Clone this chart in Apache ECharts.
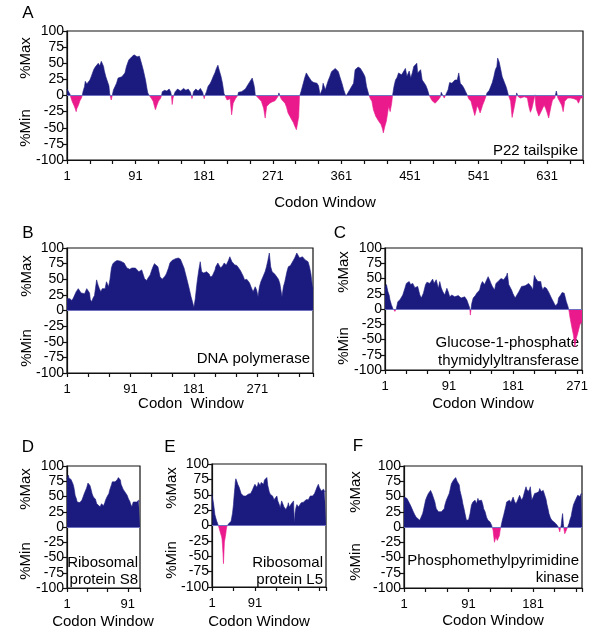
<!DOCTYPE html>
<html><head><meta charset="utf-8">
<script src="https://cdn.jsdelivr.net/npm/echarts@6/dist/echarts.min.js"></script>
<style>html,body{margin:0;padding:0;background:#fff}#c{width:600px;height:641px}</style>
</head><body><div id="c"></div>
<script>
// ---- Panel A: P22 tailspike ----
const aCodon = [1,3,5,6,8,10,12,13,14,16,18,20,21,22,24,25,27,28,31,33,36,38,40,42,44,46,47,49,50,52,54,56,57,59,60,62,64,66,68,70,73,75,77,79,82,84,86,88,89,91,93,95,96,98,101,104,106,107,109,110,112,114,116,117,119,121,123,124,125,126,129,132,135,137,138,139,140,141,143,146,150,154,157,160,163,165,166,167,170,173,176,179,181,182,184,186,189,191,193,195,197,199,201,203,205,207,209,211,213,215,217,219,222,224,225,226,228,230,232,235,237,239,241,244,246,247,248,250,252,254,256,259,261,263,265,267,270,272,274,276,278,279,281,283,285,287,289,291,293,296,298,300,302,303,305,306,308,311,313,315,317,318,320,322,325,329,331,333,334,336,337,340,342,344,346,348,350,353,355,357,359,362,364,367,368,370,372,375,377,379,381,383,386,388,390,392,394,397,399,401,403,406,408,410,413,415,416,418,420,423,425,427,428,430,432,434,436,438,440,443,445,447,448,450,451,452,454,456,458,460,461,463,465,467,470,472,474,476,478,480,482,484,486,488,489,491,492,494,495,496,498,499,501,503,505,506,508,510,512,513,515,517,520,522,524,526,528,531,533,534,536,538,539,541,543,545,546,549,551,552,555,557,559,561,563,565,566,568,569,571,572,575,577,579,580,583,585,588,590,591,593,596,598,601,603,605,607,609,611,613,615,616,617,620,623,625,627,629,631,633,636,638,641,643,645,647,650,652,654,658,662,666,670,672,675,678];
const aValue = [10,8,2,-3,-10,-15,-21,-25,-20,-15,-8,-4,0,6,14,22,18,19,24,30,40,44,47,50,46,53,50,45,38,29,27,15,3,-7,-2,9,14,19,27,25,29,28,35,45,55,58,60,62,63,60,60,62,61,53,40,24,10,4,0,-2,-5,-9,-18,-22,-15,-9,-6,-4,0,6,8,7,10,6,0,-14,-5,0,6,10,7,11,8,10,5,-5,0,6,10,7,11,5,-5,0,6,14,19,24,30,35,42,47,38,30,19,3,-2,-7,-6,-5,-30,-12,-5,-4,0,5,6,6,9,10,12,18,17,27,18,12,1,-2,-4,-7,-9,-20,-35,-17,-14,-12,-10,-9,-8,-7,-1,4,-3,-7,-8,-12,-18,-27,-30,-38,-42,-48,-53,-50,-33,-2,6,19,28,35,33,29,26,22,20,19,15,1,-1,10,19,9,17,24,30,37,38,42,40,37,29,18,9,-1,-4,5,9,15,19,40,43,44,42,40,34,29,14,1,-5,-9,-22,-32,-36,-40,-45,-52,-58,-48,-40,-17,-25,-12,-1,14,24,28,35,33,32,38,42,30,29,38,40,27,35,45,48,50,35,38,40,24,19,15,9,1,-4,-8,-9,-12,-12,-7,-6,-2,5,0,-2,-4,-7,4,9,20,19,19,22,24,22,24,35,19,15,11,6,1,-5,-9,-18,-22,-31,-22,-16,-20,-27,-20,-16,-7,0,4,8,9,20,29,40,45,58,52,50,35,29,20,14,6,1,-9,-34,-17,-4,4,-2,-4,-2,-2,1,-4,-17,-26,-20,-20,1,-15,-22,-32,-25,-20,-15,-20,-27,-35,-17,-7,-4,7,-4,-7,-15,-25,-9,-4,-4,-5,-7,-12,-4,-4];
const aTicks = [1,91,181,271,361,451,541,631];

// ---- Panel B: DNA polymerase ----
const bCodon = [1,3,5,8,10,12,14,17,19,21,23,26,29,31,33,34,36,38,40,43,45,47,49,51,53,55,57,60,62,64,66,69,72,74,77,79,82,84,86,88,90,93,95,98,100,103,105,107,109,111,114,116,119,121,123,125,127,130,133,136,138,140,142,145,147,150,152,155,157,159,162,164,167,170,172,175,177,179,181,183,185,186,188,190,192,195,197,199,201,203,204,207,209,211,212,215,217,219,222,224,227,230,232,235,237,239,242,244,247,249,251,253,256,258,260,262,265,268,270,272,274,276,279,282,284,286,288,290,292,294,296,298,301,303,306,308,310,313,315,318,320,322,324,327,329,331,333,335,337,339,341,343,345,347,349,350];
const bValue = [19,20,19,16,20,22,30,35,32,28,30,27,35,38,28,18,14,20,24,49,41,35,30,35,38,35,46,38,50,68,75,78,80,81,79,78,76,72,68,66,66,68,70,68,65,62,60,65,58,51,48,52,57,64,70,75,78,70,54,50,49,55,59,68,76,80,81,83,84,84,82,81,68,55,46,32,22,14,5,19,40,49,65,78,62,60,59,62,62,58,54,55,57,65,70,76,72,68,72,76,73,80,86,78,76,73,72,70,64,62,55,49,50,51,44,38,30,38,33,22,38,46,54,62,70,80,92,70,62,59,58,57,50,43,22,38,46,62,70,72,73,80,84,92,88,84,86,86,84,81,80,78,70,59,40,35];
const bTicks = [1,91,181,271];

// ---- Panel C: Glucose-1-phosphate thymidylyltransferase ----
const cCodon = [1,3,5,7,8,10,12,14,15,16,17,19,22,24,26,29,31,33,35,37,38,40,41,43,45,47,50,52,55,58,60,62,64,66,68,70,71,73,76,78,80,82,85,88,90,92,95,97,99,101,104,106,108,110,113,116,118,120,121,122,123,125,128,130,132,134,136,138,140,141,144,146,148,150,152,154,155,157,160,162,164,166,168,170,172,173,175,176,179,181,184,186,187,189,191,193,195,198,200,203,205,207,209,210,211,213,214,216,218,220,221,223,225,226,228,231,233,235,237,239,241,242,244,245,247,248,250,252,253,254,256,258,259,260,261,263,266,268,270,272,273,275,278];
const cValue = [34,40,29,22,15,7,1,-2,-4,-2,1,12,15,18,23,34,42,40,45,40,37,42,41,35,34,37,23,18,26,40,44,45,42,45,49,42,42,48,34,45,35,29,23,34,28,20,23,23,20,18,22,23,18,18,20,15,12,2,-10,0,9,18,22,26,28,31,40,45,42,40,48,53,48,42,37,34,31,42,45,45,50,53,48,48,55,59,40,37,31,25,18,22,23,28,31,37,40,38,40,42,45,36,31,45,55,50,51,45,47,45,38,31,36,37,34,28,23,18,15,9,5,5,10,18,20,23,27,30,26,23,12,5,1,-5,-13,-26,-43,-62,-48,-40,-37,-26,-21];
const cTicks = [1,91,181,271];

// ---- Panel D: Ribosomal protein S8 ----
const dCodon = [1,3,4,6,7,8,10,11,12,13,15,16,17,18,20,21,22,23,25,26,27,28,30,31,32,33,34,35,37,38,39,40,42,43,44,45,47,50,52,53,55,57,58,60,62,63,64,65,67,68,69,70,72,73,75,76,77,79,80,81,82,84,85,87,88,90,91,92,94,95,97,98,99,101,102,104,105,107,108,109];
const dValue = [79,85,80,82,78,77,70,66,60,52,46,41,44,44,40,38,42,44,50,52,56,57,64,68,72,74,70,68,60,55,52,49,47,46,42,38,36,33,38,36,35,40,44,49,52,55,60,63,70,74,77,77,74,76,77,79,81,78,77,70,68,62,60,57,55,52,49,46,42,38,33,36,41,38,38,41,40,44,41,41];
const dTicks = [1,91];

// ---- Panel E: Ribosomal protein L5 ----
const eCodon = [1,2,4,6,7,9,11,13,14,15,16,18,19,21,22,23,24,25,26,27,29,30,31,32,33,35,37,39,41,42,44,46,47,49,50,51,53,55,56,58,60,62,63,65,67,69,70,72,74,75,77,79,81,82,84,86,88,90,91,93,95,97,98,100,102,104,105,107,109,111,112,114,116,118,119,121,123,125,126,128,130,131,133,135,137,139,140,142,144,146,147,149,151,152,154,156,158,160,161,163,165,167,168,170,172,173,174,175,177,179,180,182,184,186,188,190,191,193,195,198,200,201,203,205,207,209,210,212,214,216,217,219,221,223,224,226,228,230,231,233,235,237,238,240];
const eValue = [51,45,37,25,18,12,7,3,1,-2,-4,-10,-13,-18,-22,-32,-45,-62,-45,-27,-18,-13,-6,-2,0,2,3,4,7,9,20,34,45,62,72,76,72,67,65,62,59,52,54,50,48,50,51,48,45,48,51,49,48,52,53,58,62,65,67,64,62,66,70,68,65,70,73,68,67,74,76,77,78,65,62,55,51,52,53,48,45,42,40,45,48,40,37,34,29,36,40,36,34,30,29,26,23,33,37,30,32,35,34,38,40,15,4,20,29,34,34,30,29,33,37,36,34,38,40,42,45,43,42,45,48,45,45,48,51,52,54,58,62,65,67,62,59,56,56,58,59,55,53,56];
const eTicks = [1,91];

// ---- Panel F: Phosphomethylpyrimidine kinase ----
const fCodon = [1,3,5,7,9,11,14,16,18,20,23,25,27,28,30,31,33,35,37,38,40,42,44,45,46,48,49,51,53,55,57,58,60,62,64,65,67,69,70,72,73,75,76,78,79,80,82,83,85,86,88,90,91,93,95,97,99,100,102,104,105,107,109,111,112,114,116,118,121,123,124,125,126,127,128,129,130,131,133,134,135,136,138,140,141,143,144,146,148,150,151,153,155,157,159,160,162,163,165,167,169,171,172,174,176,177,178,179,181,183,184,186,187,189,190,192,193,195,197,199,200,202,203,205,207,209,210,212,213,215,216,217,218,219,220,221,222,223,224,225,226,228,230,231,232,234,235,237,239,241,243,244,246,248,249];
const fValue = [49,52,47,44,38,33,25,20,16,14,11,14,22,27,38,44,50,55,58,60,55,55,41,35,30,27,25,27,25,25,30,36,44,41,55,60,71,74,77,79,81,75,73,69,60,55,45,38,28,22,11,8,12,22,36,41,44,44,38,47,43,44,44,36,30,25,16,11,8,3,0,-5,-15,-25,-22,-17,-18,-22,-20,-14,-5,0,11,20,25,35,41,43,44,40,38,49,42,38,43,44,52,55,44,49,58,66,62,58,62,66,55,44,49,55,58,56,55,58,63,58,55,60,57,45,38,28,22,15,11,9,8,6,5,3,0,-3,-8,-2,3,14,22,6,-5,-11,-8,-3,0,6,11,18,25,36,42,47,52,52,50,55,53];
const fTicks = [1,91,181];

const yTicks = [-100,-75,-50,-25,0,25,50,75,100];

const NAVY = '#1b1a7f';
const PINK = '#ea1a8c';
const FONT = '"Liberation Sans", Arial, sans-serif';

const panels = [
  {x:aCodon, y:aValue, max:678, step:30, labels:aTicks, grid:{left:67, top:31, width:516, height:129}},
  {x:bCodon, y:bValue, max:350, step:30, labels:bTicks, grid:{left:67, top:248, width:246, height:125}},
  {x:cCodon, y:cValue, max:278, step:30, labels:cTicks, grid:{left:385, top:248, width:197, height:122}},
  {x:dCodon, y:dValue, max:109, step:30, labels:dTicks, grid:{left:67, top:466, width:73, height:122}},
  {x:eCodon, y:eValue, max:240, step:45, labels:eTicks, grid:{left:212, top:464, width:114, height:123}},
  {x:fCodon, y:fValue, max:249, step:30, labels:fTicks, grid:{left:404, top:466, width:178, height:122}}
];

const grids = [], xAxes = [], yAxes = [], series = [];
panels.forEach((p, i) => {
  const g = p.grid;
  // colour split at the zero line (middle of the symmetric -100..100 axis), in pixel space
  const split = new echarts.graphic.LinearGradient(0, g.top, 0, g.top + g.height, [
    {offset:0, color:NAVY}, {offset:0.5, color:NAVY},
    {offset:0.5, color:PINK}, {offset:1, color:PINK}], true);
  grids.push(Object.assign({show:true, borderColor:'#111', borderWidth:1.2, backgroundColor:'#fff'}, g));
  xAxes.push({
    type:'value', gridIndex:i, min:1, max:p.max, interval:p.step,
    axisLine:{onZero:false, lineStyle:{color:'#111', width:1.2}},
    axisTick:{length:4, lineStyle:{color:'#111', width:1.2}},
    axisLabel:{fontSize:13, color:'#000', fontFamily:FONT, margin:10,
      formatter:(v) => p.labels.indexOf(Math.round(v)) >= 0 && Math.abs(v - Math.round(v)) < 1e-6 ? String(Math.round(v)) : ''},
    splitLine:{show:false}
  });
  yAxes.push({
    type:'value', gridIndex:i, min:-100, max:100, interval:25,
    axisLine:{lineStyle:{color:'#111', width:1.2}},
    axisTick:{length:4, lineStyle:{color:'#111', width:1.2}},
    axisLabel:{fontSize:14, color:'#000', fontFamily:FONT, margin:3,
      formatter:(v) => yTicks.indexOf(v) >= 0 ? String(v) : ''},
    splitLine:{show:false}
  });
  series.push({
    type:'line', xAxisIndex:i, yAxisIndex:i,
    data:p.x.map((c, k) => [c, p.y[k]]),
    showSymbol:false, symbol:'none', silent:true, animation:false,
    lineStyle:{width:0.6, color:split},
    itemStyle:{color:NAVY},
    areaStyle:{opacity:1, color:split},
    markLine:{silent:true, symbol:'none', label:{show:false}, animation:false,
      lineStyle:{color:'#7070c0', width:1, type:'solid'}, data:[{yAxis:0}]}
  });
});

function txt(t, x, y, size, align, rot) {
  return {type:'text', x:x, y:y, rotation:rot || 0, silent:true,
    style:{text:t, x:0, y:0, fill:'#000', font:size + 'px ' + FONT,
      textAlign:align || 'center', textVerticalAlign:'middle', verticalAlign:'middle'}};
}
const R = Math.PI / 2;
const graphics = [
  txt('A', 28, 13, 17), txt('B', 28, 233, 17), txt('C', 340, 233, 17),
  txt('D', 28, 447, 17), txt('E', 170, 447, 17), txt('F', 358, 446, 17),
  txt('%Max', 26, 58, 15, 'center', R), txt('%Min', 26, 128, 15, 'center', R),
  txt('%Max', 27, 276, 15, 'center', R), txt('%Min', 27, 348, 15, 'center', R),
  txt('%Max', 344, 272, 15, 'center', R), txt('%Min', 344, 346, 15, 'center', R),
  txt('%Max', 26, 489, 15, 'center', R), txt('%Min', 26, 561, 15, 'center', R),
  txt('%Max', 172, 488, 15, 'center', R), txt('%Min', 172, 560, 15, 'center', R),
  txt('%Max', 356, 492, 15, 'center', R), txt('%Min', 356, 562, 15, 'center', R),
  txt('Codon Window', 325, 203, 15), txt('Codon  Window', 191, 404, 15),
  txt('Codon Window', 483, 404, 15), txt('Codon Window', 103, 622, 15),
  txt('Codon Window', 259, 622, 15), txt('Codon Window', 493, 621, 15),
  txt('P22 tailspike', 578, 151, 15, 'right'),
  txt('DNA polymerase', 310, 359, 15, 'right'),
  txt('Glucose-1-phosphate', 579, 343, 15, 'right'),
  txt('thymidylyltransferase', 579, 361, 15, 'right'),
  txt('Ribosomal', 138, 563, 15, 'right'), txt('protein S8', 138, 580, 15, 'right'),
  txt('Ribosomal', 323, 563, 15, 'right'), txt('protein L5', 323, 580, 15, 'right'),
  txt('Phosphomethylpyrimidine', 579, 561, 15, 'right'), txt('kinase', 579, 578, 15, 'right')
];

const chart = echarts.init(document.getElementById('c'), null, {renderer:'canvas'});
chart.setOption({
  animation:false, backgroundColor:'#fff',
  grid:grids, xAxis:xAxes, yAxis:yAxes, series:series, graphic:graphics
});
</script></body></html>
